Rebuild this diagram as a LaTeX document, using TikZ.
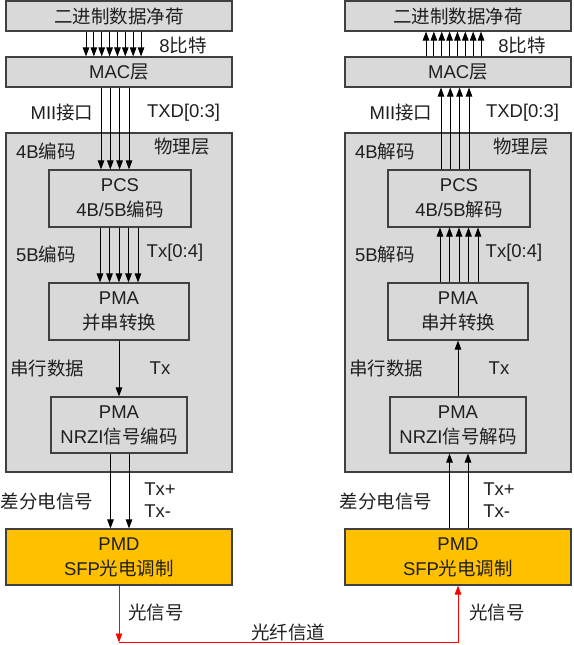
\documentclass[tikz,border=0pt]{standalone}
\usepackage{fontspec}
\setmainfont{Liberation Sans}
\newfontfamily\cjk{Noto Sans CJK SC}
\newcommand\zh[1]{{\cjk #1}}
\usetikzlibrary{arrows.meta}
\definecolor{boxgray}{HTML}{D9D9D9}
\definecolor{boxline}{HTML}{404040}
\definecolor{pmdfill}{HTML}{FFC000}
\definecolor{txt}{HTML}{1F1F1F}
\begin{document}
\begin{tikzpicture}[x=1pt,y=-1pt,
  font=\fontsize{18.5}{25}\selectfont,
  box/.style={draw=boxline, line width=1.1pt, fill=boxgray, inner sep=0pt, align=center, text=txt},
  pmdbox/.style={box, fill=pmdfill},
  lbl/.style={inner sep=0pt, text=txt},
  arr/.style={draw=black, line width=0.9pt, -{Triangle[length=9pt,width=6.5pt]}},
  redarr/.style={draw=red, line width=0.9pt, -{Triangle[length=9pt,width=6.5pt]}}]
\useasboundingbox (0,0) rectangle (573,645);

% ---------- left column ----------
\node[box, minimum width=226pt, minimum height=30pt] (topL) at (119,16) {\zh{二进制数据净荷}};
\node[box, minimum width=226pt, minimum height=30pt] (macL) at (119,72) {MAC\zh{层}};
\node[box, minimum width=226pt, minimum height=339pt] (phyL) at (119,302.5) {};
\node[box, minimum width=142pt, minimum height=57pt] (pcsL) at (120,198.5) {PCS\\4B/5B\zh{编码}};
\node[box, minimum width=140pt, minimum height=57pt] (pmaL) at (119,311.5) {PMA\\\zh{并串转换}};
\node[box, minimum width=136pt, minimum height=56pt] (nrziL) at (119,425) {PMA\\NRZI\zh{信号编码}};
\node[pmdbox, minimum width=226pt, minimum height=56pt] (pmdL) at (119,557) {PMD\\SFP\zh{光电调制}};

\node[lbl] (l8L) at (183,45) {8\zh{比特}};
\node[lbl] (miiL) at (62,112) {MII\zh{接口}};
\node[lbl] (txdL) at (183.5,113) {TXD[0:3]};
\node[lbl] (b4L) at (46,151) {4B\zh{编码}};
\node[lbl] (phL) at (182,147) {\zh{物理层}};
\node[lbl] (b5L) at (46,254) {5B\zh{编码}};
\node[lbl] (tx4L) at (175,253) {Tx[0:4]};
\node[lbl] (serL) at (47,368) {\zh{串行数据}};
\node[lbl] (txL) at (160,368) {Tx};
\node[lbl] (difL) at (47,501) {\zh{差分电信号}};
\node[lbl, align=left, font=\fontsize{18.5}{22}\selectfont] (pmL) at (160,500) {Tx+\\Tx-};
\node[lbl] (optL) at (156,612) {\zh{光信号}};

\foreach \i in {0,...,7} {
  \pgfmathsetmacro\xx{86+7.86*\i}
  \draw[arr] (topL.south -| \xx,0) -- (macL.north -| \xx,0);
}
\foreach \xx in {101,110.3,119.6,129} {
  \draw[arr] (macL.south -| \xx,0) -- (pcsL.north -| \xx,0);
}
\foreach \xx in {100,109.5,119,128.5,138} {
  \draw[arr] (pcsL.south -| \xx,0) -- (pmaL.north -| \xx,0);
}
\draw[arr] (pmaL.south) -- (nrziL.north);
\foreach \xx in {110.5,129} {
  \draw[arr] (nrziL.south -| \xx,0) -- (pmdL.north -| \xx,0);
}

% ---------- right column ----------
\node[box, minimum width=226pt, minimum height=30pt] (topR) at (458,16) {\zh{二进制数据净荷}};
\node[box, minimum width=226pt, minimum height=30pt] (macR) at (458,72) {MAC\zh{层}};
\node[box, minimum width=226pt, minimum height=339pt] (phyR) at (458,302.5) {};
\node[box, minimum width=142pt, minimum height=57pt] (pcsR) at (459,198.5) {PCS\\4B/5B\zh{解码}};
\node[box, minimum width=140pt, minimum height=57pt] (pmaR) at (458,311.5) {PMA\\\zh{串并转换}};
\node[box, minimum width=136pt, minimum height=56pt] (nrziR) at (458,425) {PMA\\NRZI\zh{信号解码}};
\node[pmdbox, minimum width=226pt, minimum height=56pt] (pmdR) at (458,557) {PMD\\SFP\zh{光电调制}};

\node[lbl] (l8R) at (522,45) {8\zh{比特}};
\node[lbl] (miiR) at (401,112) {MII\zh{接口}};
\node[lbl] (txdR) at (522.5,113) {TXD[0:3]};
\node[lbl] (b4R) at (385,151) {4B\zh{解码}};
\node[lbl] (phR) at (521,147) {\zh{物理层}};
\node[lbl] (b5R) at (385,254) {5B\zh{解码}};
\node[lbl] (tx4R) at (514,253) {Tx[0:4]};
\node[lbl] (serR) at (386,368) {\zh{串行数据}};
\node[lbl] (txR) at (499,368) {Tx};
\node[lbl] (difR) at (386,501) {\zh{差分电信号}};
\node[lbl, align=left, font=\fontsize{18.5}{22}\selectfont] (pmR) at (499,500) {Tx+\\Tx-};
\node[lbl] (optR) at (497,612) {\zh{光信号}};

\foreach \i in {0,...,7} {
  \pgfmathsetmacro\xx{426+7.86*\i}
  \draw[arr] (macR.north -| \xx,0) -- (topR.south -| \xx,0);
}
\foreach \xx in {441,450.3,459.6,469} {
  \draw[arr] (pcsR.north -| \xx,0) -- (macR.south -| \xx,0);
}
\foreach \xx in {440,449.5,459,468.5,478} {
  \draw[arr] (pmaR.north -| \xx,0) -- (pcsR.south -| \xx,0);
}
\draw[arr] (nrziR.north) -- (pmaR.south);
\foreach \xx in {449.5,468} {
  \draw[arr] (pmdR.north -| \xx,0) -- (nrziR.south -| \xx,0);
}

% ---------- optical channel ----------
\coordinate (cL) at (119,642.5);
\draw[redarr] (pmdL.south) -- (cL);
\draw[redarr] (cL) -| (pmdR.south);
\node[lbl] (fib) at (288,632) {\zh{光纤信道}};
\end{tikzpicture}
\end{document}
